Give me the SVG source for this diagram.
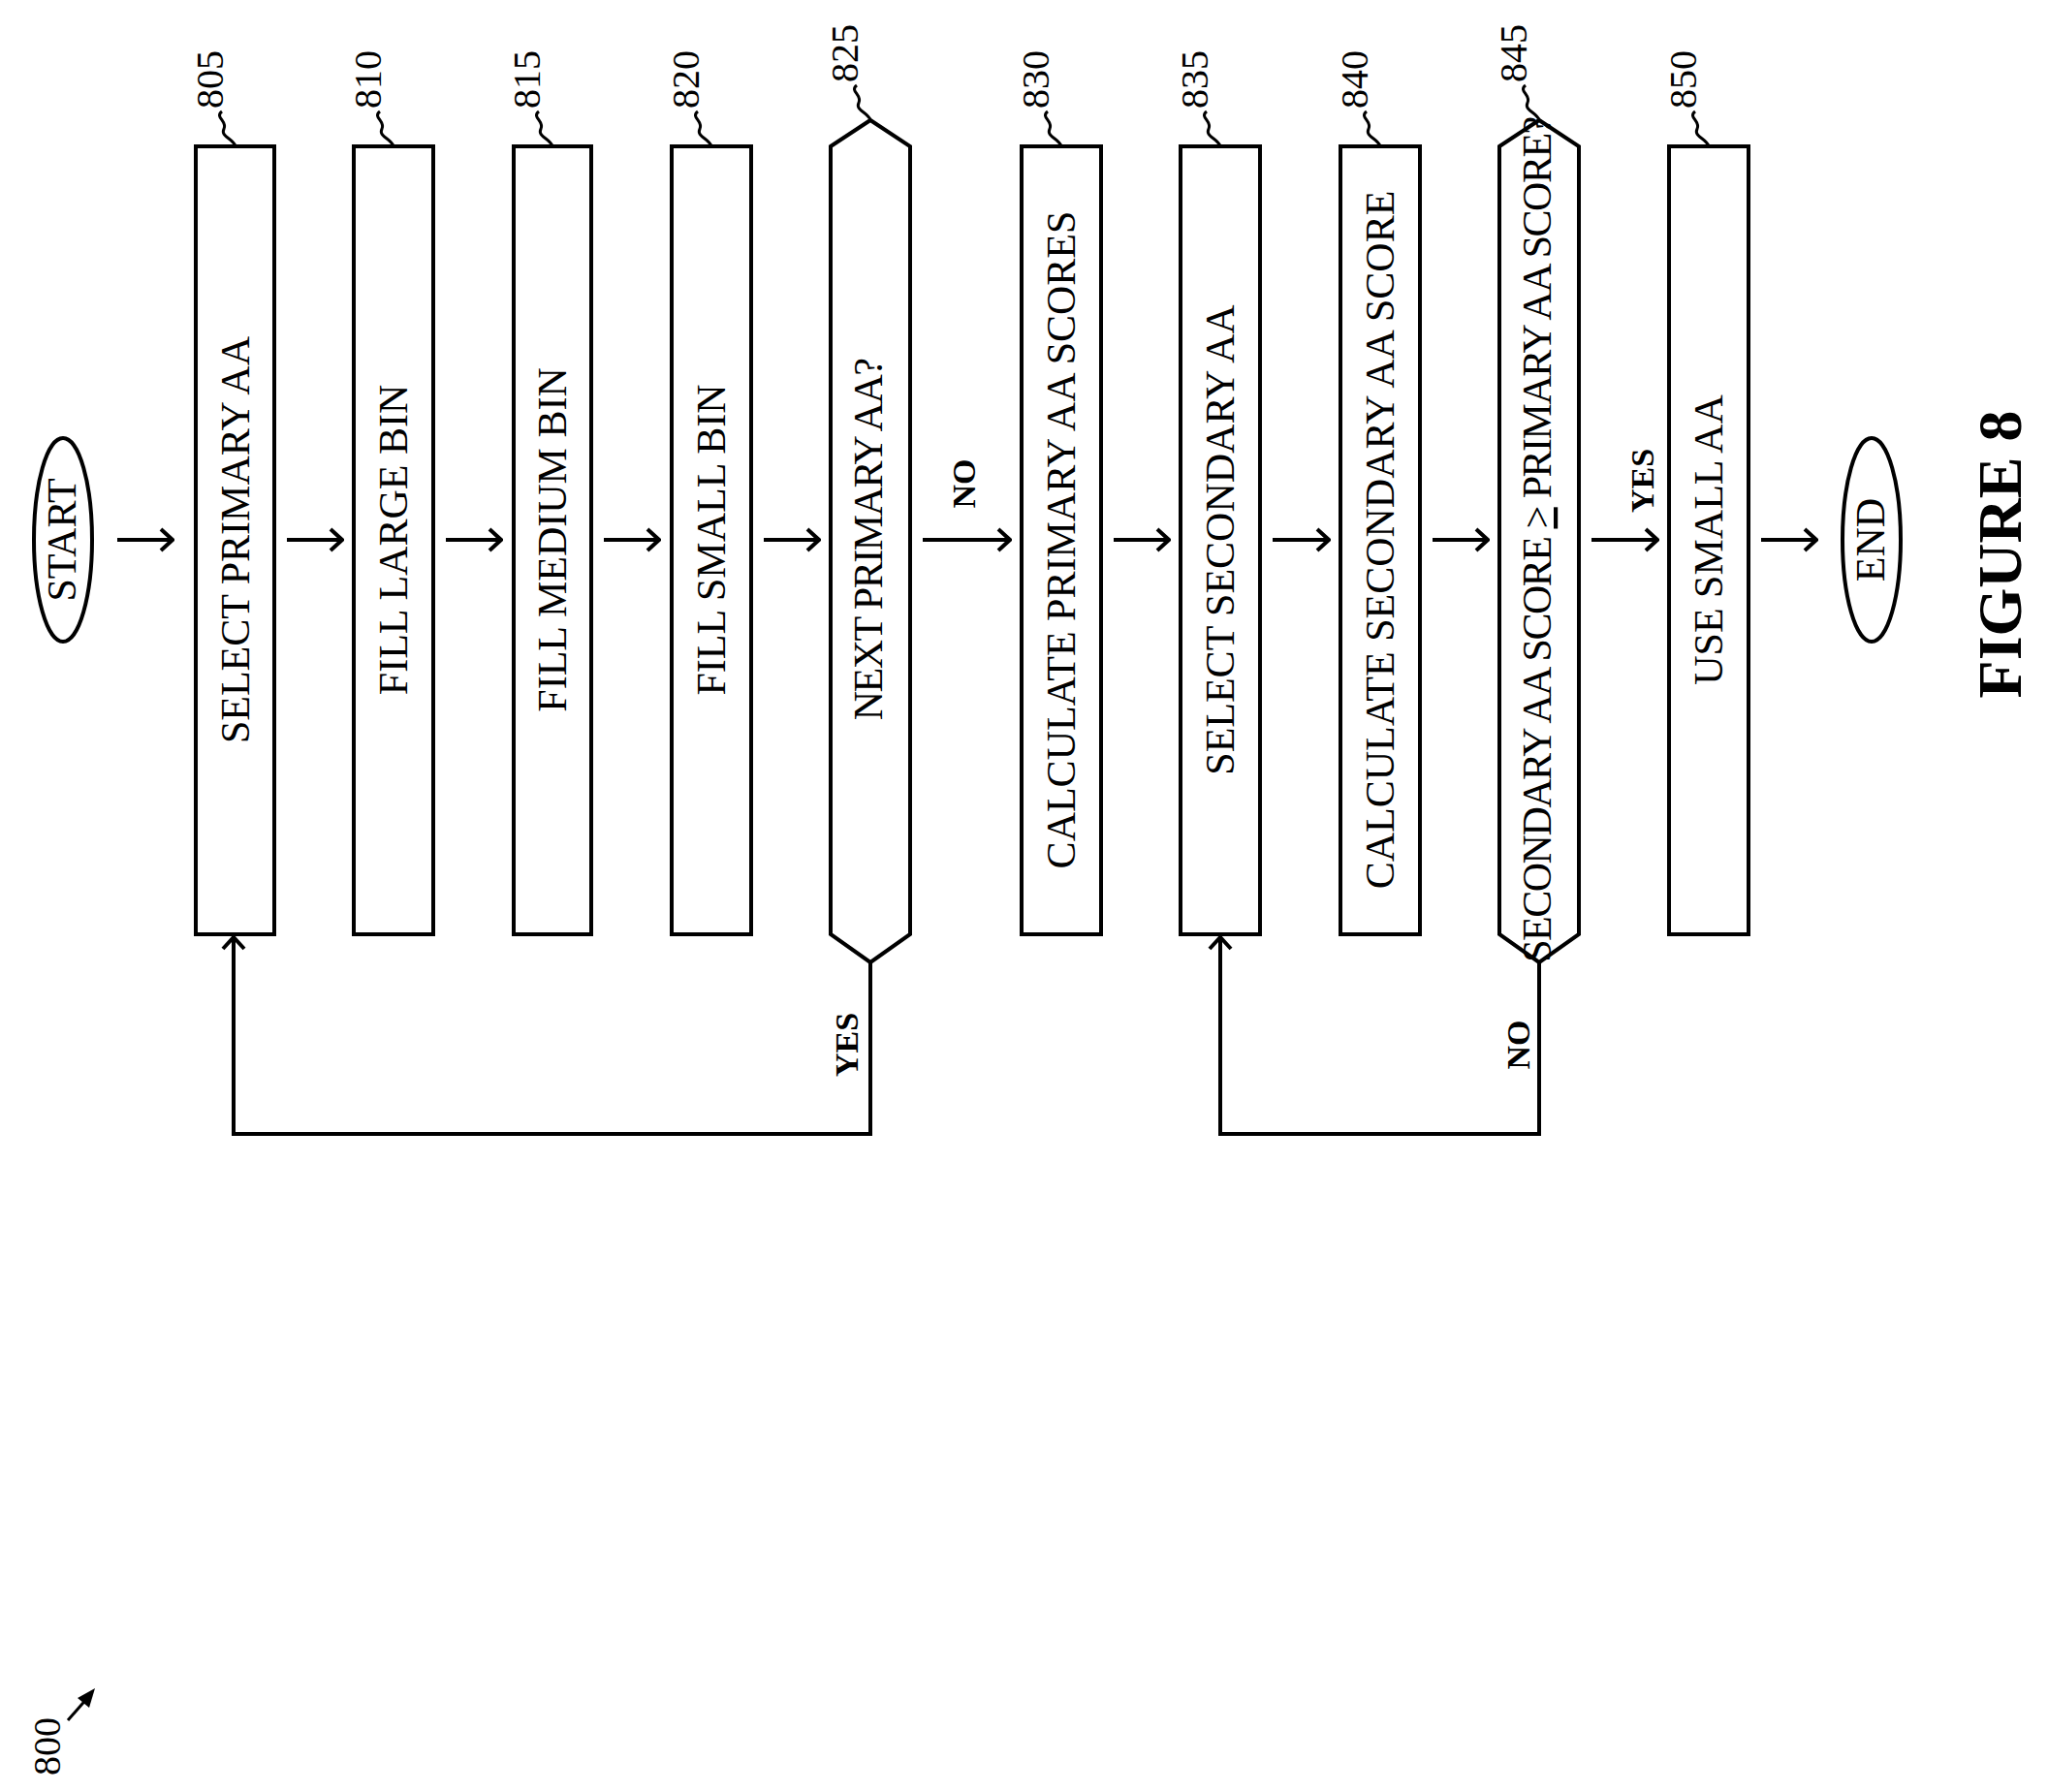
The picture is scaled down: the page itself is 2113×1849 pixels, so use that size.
<svg xmlns="http://www.w3.org/2000/svg" width="2113" height="1849" viewBox="0 0 2113 1849">
<style>
.b{fill:#fff;stroke:#000;stroke-width:4}
.t{font-family:"Liberation Serif",serif;font-size:42px;text-anchor:middle}
.n{font-family:"Liberation Serif",serif;font-size:40px}
.l{font-family:"Liberation Serif",serif;font-size:34px;font-weight:bold;text-anchor:middle}
.c{fill:none;stroke:#000;stroke-width:4}
</style>
<defs>
<marker id="a" markerWidth="16" markerHeight="26" refX="14" refY="13" orient="auto" markerUnits="userSpaceOnUse"><path d="M2,2 L14,13 L2,24" fill="none" stroke="#000" stroke-width="4"/></marker>
<path id="sq" d="M-14,-36 c-8,6 6,10 2,18 c-4,8 10,10 12,18" fill="none" stroke="#000" stroke-width="3"/>
</defs>
<rect width="2113" height="1849" fill="#fff"/>
<g id="start"><ellipse class="b" cx="65" cy="557" rx="30" ry="105"/><text class="t" transform="translate(78,557) rotate(-90)" font-size="38">START</text></g>
<g id="n805"><rect class="b" x="202" y="151" width="81" height="813"/><text class="t" transform="translate(257,557) rotate(-90)">SELECT PRIMARY AA</text><use href="#sq" x="243" y="151"/><text class="n" transform="translate(230,112) rotate(-90)">805</text></g>
<g id="n810"><rect class="b" x="365" y="151" width="82" height="813"/><text class="t" transform="translate(420,557) rotate(-90)">FILL LARGE BIN</text><use href="#sq" x="406" y="151"/><text class="n" transform="translate(393,112) rotate(-90)">810</text></g>
<g id="n815"><rect class="b" x="530" y="151" width="80" height="813"/><text class="t" transform="translate(584,557) rotate(-90)">FILL MEDIUM BIN</text><use href="#sq" x="570" y="151"/><text class="n" transform="translate(557,112) rotate(-90)">815</text></g>
<g id="n820"><rect class="b" x="693" y="151" width="82" height="813"/><text class="t" transform="translate(748,557) rotate(-90)">FILL SMALL BIN</text><use href="#sq" x="734" y="151"/><text class="n" transform="translate(721,112) rotate(-90)">820</text></g>
<g id="n825"><polygon class="b" points="857,151 898,124 939,151 939,964 898,993 857,964"/><text class="t" transform="translate(910,557) rotate(-90)" font-size="34" letter-spacing="-1.5">NEXT PRIMARY AA?</text><use href="#sq" x="898" y="124"/><text class="n" transform="translate(885,85) rotate(-90)">825</text></g>
<g id="n830"><rect class="b" x="1054" y="151" width="82" height="813"/><text class="t" transform="translate(1109,557) rotate(-90)">CALCULATE PRIMARY AA SCORES</text><use href="#sq" x="1095" y="151"/><text class="n" transform="translate(1082,112) rotate(-90)">830</text></g>
<g id="n835"><rect class="b" x="1218" y="151" width="82" height="813"/><text class="t" transform="translate(1273,557) rotate(-90)">SELECT SECONDARY AA</text><use href="#sq" x="1259" y="151"/><text class="n" transform="translate(1246,112) rotate(-90)">835</text></g>
<g id="n840"><rect class="b" x="1383" y="151" width="82" height="813"/><text class="t" transform="translate(1438,557) rotate(-90)">CALCULATE SECONDARY AA SCORE</text><use href="#sq" x="1424" y="151"/><text class="n" transform="translate(1411,112) rotate(-90)">840</text></g>
<g id="n845"><polygon class="b" points="1547,151 1588,124 1629,151 1629,964 1588,993 1547,964"/><text class="t" transform="translate(1600,557) rotate(-90)" font-size="34" letter-spacing="-1.5">SECONDARY AA SCORE <tspan text-decoration="underline">&gt;</tspan> PRIMARY AA SCORE?</text><use href="#sq" x="1588" y="124"/><text class="n" transform="translate(1575,85) rotate(-90)">845</text></g>
<g id="n850"><rect class="b" x="1722" y="151" width="82" height="813"/><text class="t" transform="translate(1777,557) rotate(-90)">USE SMALL AA</text><use href="#sq" x="1763" y="151"/><text class="n" transform="translate(1750,112) rotate(-90)">850</text></g>
<g id="end"><ellipse class="b" cx="1931" cy="557" rx="30" ry="105"/><text class="t" transform="translate(1944,557) rotate(-90)" font-size="38">END</text></g>
<g id="connectors">
<line class="c" x1="121" y1="557" x2="178" y2="557" marker-end="url(#a)"/>
<line class="c" x1="296" y1="557" x2="353" y2="557" marker-end="url(#a)"/>
<line class="c" x1="460" y1="557" x2="517" y2="557" marker-end="url(#a)"/>
<line class="c" x1="623" y1="557" x2="680" y2="557" marker-end="url(#a)"/>
<line class="c" x1="788" y1="557" x2="845" y2="557" marker-end="url(#a)"/>
<line class="c" x1="952" y1="557" x2="1042" y2="557" marker-end="url(#a)"/>
<line class="c" x1="1149" y1="557" x2="1206" y2="557" marker-end="url(#a)"/>
<line class="c" x1="1313" y1="557" x2="1371" y2="557" marker-end="url(#a)"/>
<line class="c" x1="1478" y1="557" x2="1535" y2="557" marker-end="url(#a)"/>
<line class="c" x1="1642" y1="557" x2="1710" y2="557" marker-end="url(#a)"/>
<line class="c" x1="1817" y1="557" x2="1874" y2="557" marker-end="url(#a)"/>
<polyline class="c" points="898,993 898,1170 241,1170 241,967" marker-end="url(#a)"/>
<polyline class="c" points="1588,993 1588,1170 1259,1170 1259,967" marker-end="url(#a)"/>
<text class="l" transform="translate(1006,499) rotate(-90)">NO</text>
<text class="l" transform="translate(1706,496) rotate(-90)">YES</text>
<text class="l" transform="translate(885,1078) rotate(-90)">YES</text>
<text class="l" transform="translate(1578,1078) rotate(-90)">NO</text>
</g>
<text transform="translate(2085,572) rotate(-90)" font-family="Liberation Serif,serif" font-size="64" font-weight="bold" text-anchor="middle">FIGURE 8</text>
<g id="ref800"><text class="n" transform="translate(62,1832) rotate(-90)">800</text><line x1="70" y1="1775" x2="92" y2="1750" stroke="#000" stroke-width="3"/><path d="M80,1752 L98,1742 L92,1762 Z"/></g>
</svg>
